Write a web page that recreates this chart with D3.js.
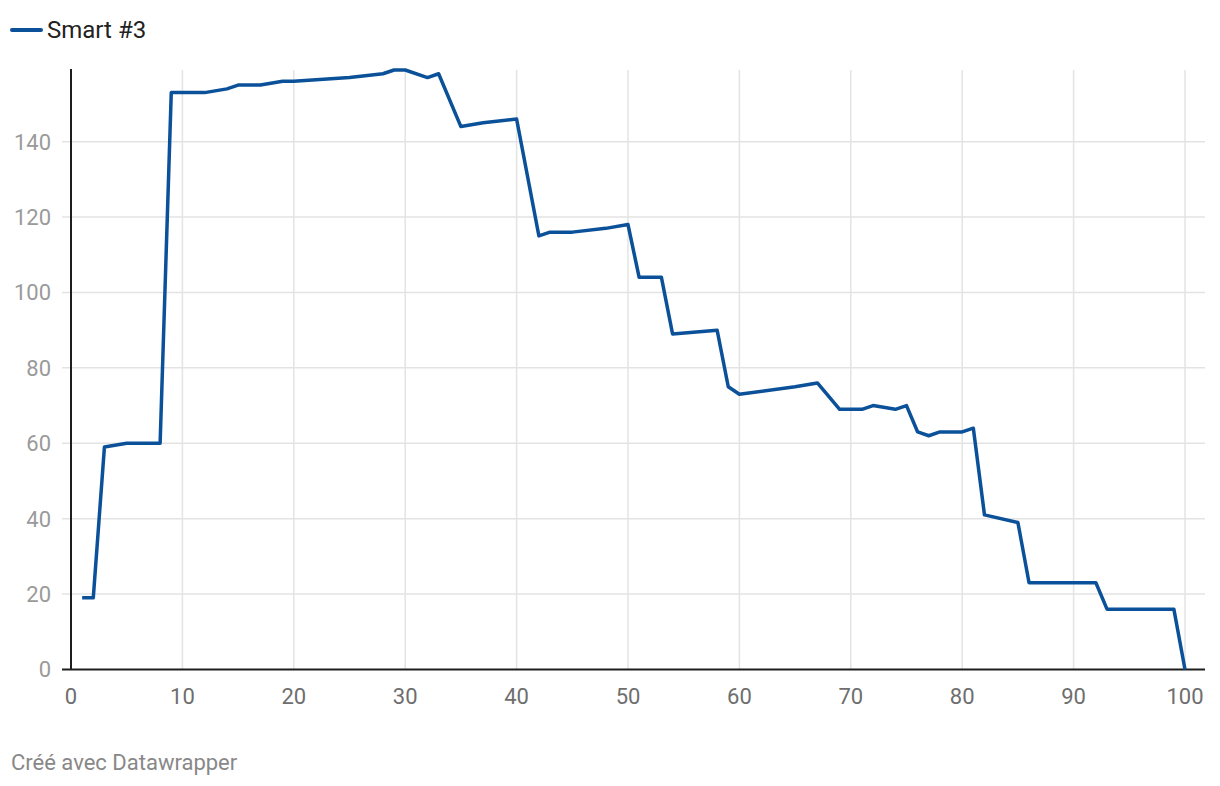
<!DOCTYPE html>
<html>
<head>
<meta charset="utf-8">
<script src="https://cdn.jsdelivr.net/npm/d3@7"></script>
<style>
  body { margin: 0; background: #fff; font-family: Roboto, sans-serif; }
  svg { display: block; }
</style>
</head>
<body>
<svg id="chart" width="1220" height="786"></svg>
<script>
// series (only the vertices of the line)
const seriesName = "Smart #3";
const xs = [1, 2, 3, 5, 8, 9, 12, 14, 15, 17, 19, 20, 25, 28, 29, 30, 32, 33, 35, 37, 40,
            42, 43, 45, 48, 50, 51, 53, 54, 58, 59, 60, 65, 67, 69, 71, 72, 74, 75, 76,
            77, 78, 80, 81, 82, 85, 86, 92, 93, 99, 100];
const ys = [19, 19, 59, 60, 60, 153, 153, 154, 155, 155, 156, 156, 157, 158, 159, 159, 157, 158, 144, 145, 146,
            115, 116, 116, 117, 118, 104, 104, 89, 90, 75, 73, 75, 76, 69, 69, 70, 69, 70, 63,
            62, 63, 63, 64, 41, 39, 23, 23, 16, 16, 0];
const xTicks = [0, 10, 20, 30, 40, 50, 60, 70, 80, 90, 100];
const yTicks = [0, 20, 40, 60, 80, 100, 120, 140];

const data = xs.map((x, i) => ({ x: x, y: ys[i] }));

const lineColor = "#0b5199";
const svg = d3.select("#chart");

let x = d3.scaleLinear().domain([0, 100]).range([71, 1185]);
let y = d3.scaleLinear().domain([0, 159]).range([669.5, 70]);
const gridRight = 1205;

// horizontal grid + y labels
let yAxis = svg.append("g").attr("class", "y-axis");
yAxis.selectAll("line")
  .data(yTicks.filter(d => d > 0))
  .enter()
  .append("line")
  .attr("x1", 62).attr("x2", gridRight)
  .attr("y1", d => y(d)).attr("y2", d => y(d))
  .attr("stroke", "#e3e3e3")
  .attr("stroke-width", 1.5);
yAxis.selectAll("text")
  .data(yTicks)
  .enter()
  .append("text")
  .attr("x", 51)
  .attr("y", d => y(d))
  .attr("dy", "0.36em")
  .attr("text-anchor", "end")
  .attr("fill", "#9a9a9a")
  .style("font-size", "22px")
  .text(d => d);

// vertical grid + x labels
let xAxis = svg.append("g").attr("class", "x-axis");
xAxis.selectAll("line")
  .data(xTicks.filter(d => d > 0))
  .enter()
  .append("line")
  .attr("x1", d => x(d)).attr("x2", d => x(d))
  .attr("y1", y(159)).attr("y2", y(0))
  .attr("stroke", "#e3e3e3")
  .attr("stroke-width", 1.5);
xAxis.selectAll("text")
  .data(xTicks)
  .enter()
  .append("text")
  .attr("x", d => x(d))
  .attr("y", 704)
  .attr("text-anchor", "middle")
  .attr("fill", "#6e6e6e")
  .style("font-size", "22px")
  .text(d => d);

// axis lines
svg.append("line")
  .attr("x1", x(0)).attr("x2", x(0))
  .attr("y1", y(159) - 1).attr("y2", y(0))
  .attr("stroke", "#1e1e1e").attr("stroke-width", 2);
svg.append("line")
  .attr("x1", 62).attr("x2", gridRight)
  .attr("y1", y(0)).attr("y2", y(0))
  .attr("stroke", "#1e1e1e").attr("stroke-width", 2);

// the line
let line = d3.line().x(d => x(d.x)).y(d => y(d.y));
svg.append("path")
  .datum(data)
  .attr("d", line)
  .attr("fill", "none")
  .attr("stroke", lineColor)
  .attr("stroke-width", 3.5)
  .attr("stroke-linejoin", "round");

// legend
let legend = svg.append("g").attr("class", "legend");
legend.append("line")
  .attr("x1", 12).attr("x2", 41)
  .attr("y1", 30).attr("y2", 30)
  .attr("stroke", lineColor)
  .attr("stroke-width", 4)
  .attr("stroke-linecap", "round");
legend.append("text")
  .attr("x", 47).attr("y", 38)
  .attr("fill", "#222")
  .style("font-size", "24px")
  .text(seriesName);

// footer
svg.append("text")
  .attr("x", 11).attr("y", 770)
  .attr("fill", "#888")
  .style("font-size", "22px")
  .text("Créé avec Datawrapper");
</script>
</body>
</html>
